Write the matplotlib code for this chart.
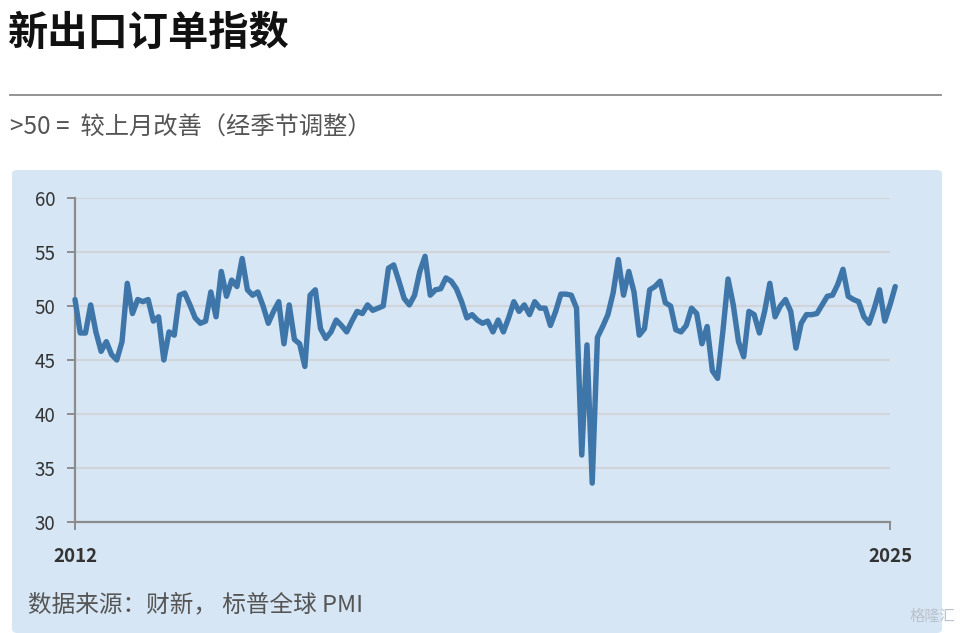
import matplotlib
matplotlib.use("Agg")
import matplotlib.pyplot as plt
from matplotlib.patches import FancyBboxPatch
import numpy as np

plt.rcParams['font.family'] = ['Noto Sans CJK SC', 'DejaVu Sans']

# Caixin China new export orders index, monthly from Jan 2012
new_export = [
    50.6, 47.5, 47.5, 50.1, 47.6, 45.8, 46.7, 45.5, 45.0, 46.7,
    52.1, 49.3, 50.6, 50.4, 50.6, 48.6, 49.0, 45.0, 47.6, 47.3,
    51.0, 51.2, 50.1, 48.9, 48.4, 48.6, 51.3, 49.0, 53.2, 50.9,
    52.4, 51.8, 54.4, 51.5, 51.0, 51.3, 50.0, 48.4, 49.5, 50.4,
    46.5, 50.1, 46.9, 46.5, 44.4, 51.0, 51.5, 47.9, 47.0, 47.6,
    48.7, 48.2, 47.6, 48.6, 49.5, 49.3, 50.1, 49.6, 49.8, 50.0,
    53.5, 53.8, 52.3, 50.7, 50.1, 51.0, 53.2, 54.6, 51.0, 51.5,
    51.6, 52.6, 52.3, 51.6, 50.4, 48.9, 49.2, 48.7, 48.4, 48.6,
    47.6, 48.7, 47.6, 48.9, 50.4, 49.5, 50.1, 49.2, 50.4, 49.8,
    49.8, 48.2, 49.5, 51.1, 51.1, 51.0, 49.8, 36.2, 46.4, 33.6,
    47.1, 48.1, 49.2, 51.2, 54.3, 51.0, 53.2, 51.3, 47.3, 47.9,
    51.5, 51.8, 52.3, 50.3, 50.0, 47.8, 47.6, 48.2, 49.8, 49.3,
    46.5, 48.1, 44.0, 43.3, 47.6, 52.5, 50.1, 46.7, 45.3, 49.5,
    49.2, 47.5, 49.5, 52.1, 49.0, 50.0, 50.6, 49.5, 46.1, 48.4,
    49.2, 49.2, 49.3, 50.1, 50.9, 51.0, 52.0, 53.4, 50.9, 50.6,
    50.4, 49.0, 48.4, 49.8, 51.5, 48.6, 50.1, 51.8,
]
year_ticks = [0, 156]
year_labels = ["2012", "2025"]
y_ticks = [30, 35, 40, 45, 50, 55, 60]

W, H = 960, 633
fig = plt.figure(figsize=(W / 100, H / 100), dpi=100)
fig.patch.set_facecolor("white")

def fx(px):
    return px / W

def fy(py):
    return 1 - py / H

# title, rule, subtitle
fig.text(fx(8), fy(33), "新出口订单指数", fontsize=29, fontweight="bold",
         color="#111111", va="center", ha="left")
fig.add_artist(plt.Line2D([fx(10), fx(941)], [fy(95), fy(95)], color="#8a8a8a", lw=1.3))
fig.text(fx(10), fy(128), ">50 =  较上月改善（经季节调整）", fontsize=17.5,
         color="#555555", va="center", ha="left")

# light blue panel
panel = FancyBboxPatch((fx(12), 0), fx(930), fy(170), boxstyle="round,pad=0,rounding_size=0.006",
                       transform=fig.transFigure, facecolor="#d7e6f4", edgecolor="none", zorder=0)
fig.add_artist(panel)

ax = fig.add_axes([fx(75), fy(522), fx(890 - 75), (522 - 198) / H])
ax.set_facecolor("none")
ax.set_xlim(0, 156)
ax.set_ylim(30, 60)

for v in y_ticks[1:]:
    ax.axhline(v, color="#cfd5db", lw=1.6, zorder=1)

months = np.arange(len(new_export))
ax.plot(months, new_export, color="#3f76aa", lw=3.9, solid_joinstyle="round",
        solid_capstyle="round", clip_on=False, zorder=3)

for s in ["top", "right"]:
    ax.spines[s].set_visible(False)
for s in ["left", "bottom"]:
    ax.spines[s].set_color("#8c8c8c")
    ax.spines[s].set_linewidth(1.6)

ax.set_yticks(y_ticks)
ax.set_yticklabels([str(v) for v in y_ticks])
ax.set_xticks(year_ticks)
ax.set_xticklabels(year_labels, fontweight="bold")
ax.tick_params(axis="y", length=6, width=1.4, color="#8c8c8c", labelsize=13.5,
               labelcolor="#333333", pad=8)
ax.tick_params(axis="x", length=6, width=1.4, color="#8c8c8c", labelsize=13.5,
               labelcolor="#333333", pad=12)

fig.text(fx(28), fy(605), "数据来源：财新， 标普全球 PMI", fontsize=17,
         color="#555555", va="center", ha="left")
fig.text(fx(955), fy(616), "格隆汇", fontsize=11, color="#b9c2cc",
         va="center", ha="right")

fig.savefig("out.png", dpi=100)
